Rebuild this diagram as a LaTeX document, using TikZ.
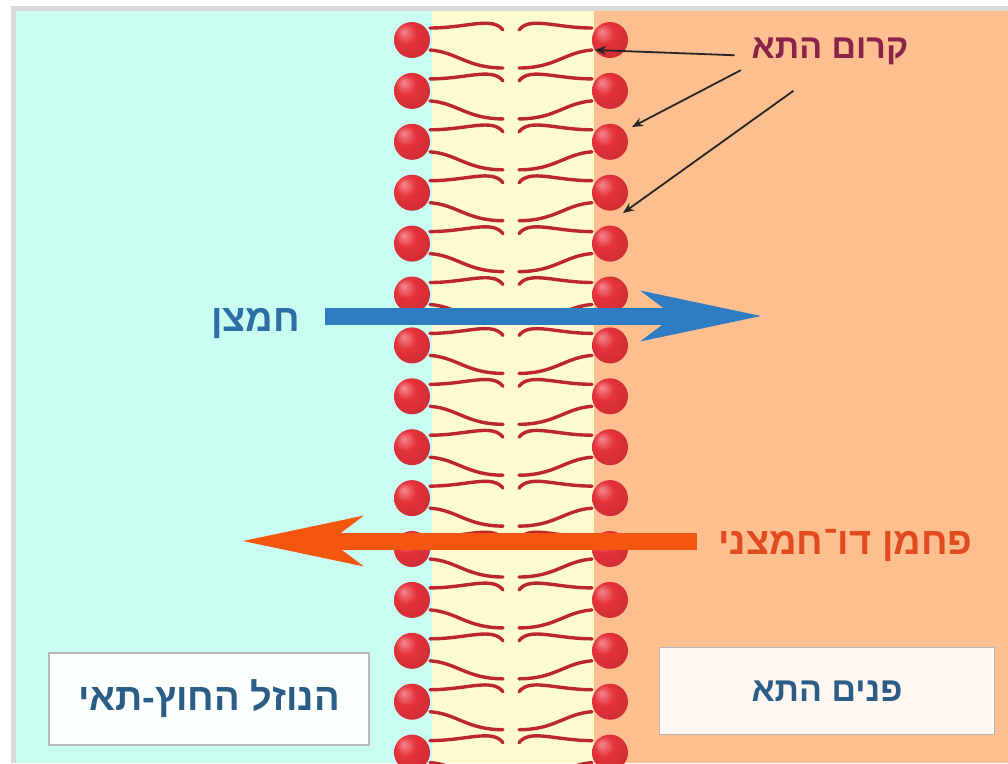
\documentclass[tikz,border=0pt]{standalone}
\usepackage{fontspec}
\setmainfont{Liberation Sans}
\newfontfamily\hebfont[Script=Hebrew]{Liberation Sans}
\TeXXeTstate=1
\usetikzlibrary{positioning}
\usetikzlibrary{arrows.meta}
\usepackage{xcolor}

\definecolor{outsideCyan}{HTML}{C9FDF1}
\definecolor{membraneYellow}{HTML}{FCFBD0}
\definecolor{insideOrange}{HTML}{FDBF8F}
\definecolor{frameGray}{HTML}{D9D9D9}
\definecolor{tailRed}{HTML}{BC272E}
\definecolor{headRed}{HTML}{E5323B}
\definecolor{headLight}{HTML}{F58A8F}
\definecolor{headDark}{HTML}{B0101C}
\definecolor{oxyBlue}{HTML}{2E7DC2}
\definecolor{coTwoOrange}{HTML}{F5560F}
\definecolor{membraneText}{HTML}{8A2348}
\definecolor{oxyText}{HTML}{2D6EA9}
\definecolor{coTwoText}{HTML}{E24B1F}
\definecolor{boxText}{HTML}{2B5D86}

\pgfdeclareradialshading{headBall}{\pgfpoint{-12bp}{12bp}}{color(0bp)=(headLight); color(14bp)=(headRed); color(36bp)=(headRed!88!black); color(50bp)=(headDark)}

\tikzset
  {
    myHead/.style=    {shading=headBall},
    myTail/.style=    {tailRed, line width=3.4pt, line cap=round},
    myLabel/.style=   {inner sep=0pt, font=\hebfont\bfseries\fontsize{34}{40}\selectfont},
    myBox/.style=     {draw=gray!55, line width=1.2pt, inner sep=0pt, text=boxText},
    myCallout/.style= {black!85, line width=1.8pt, -{Stealth[length=11pt, width=9pt]}},
    myThick/.style=   {line width=17pt, -{Stealth[length=121pt, width=51pt, inset=34pt, line width=0pt]}}
  }

\begin{document}
\begin{tikzpicture}[x=1pt, y=-1pt]

\useasboundingbox (0,0) rectangle (1008,763);

% background: frame, outside, membrane, inside
{
\fill[frameGray] (11,6) rectangle (1008,763);
\fill[outsideCyan] (16,11) rectangle (432,763);
\fill[membraneYellow] (432,11) rectangle (594,763);
\fill[insideOrange] (594,11) rectangle (1008,763);
}

% tails
{
\foreach \i in {0,...,14}
{
\pgfmathsetmacro{\cy}{40+50.9*\i}
\draw[myTail] (430,\cy-12) .. controls (467,\cy-12) and (492,\cy-24) .. (503,\cy-10);
\draw[myTail] (430,\cy+10) .. controls (457,\cy+12) and (467,\cy+28) .. (503,\cy+28);
\draw[myTail] (592,\cy-12) .. controls (555,\cy-12) and (530,\cy-24) .. (519,\cy-10);
\draw[myTail] (592,\cy+10) .. controls (565,\cy+12) and (555,\cy+28) .. (519,\cy+28);
}
}

% heads
{
\foreach \i in {0,...,14}
{
\pgfmathsetmacro{\cy}{40+50.9*\i}
\shade[myHead] (412,\cy) circle (18pt);
\shade[myHead] (610,\cy) circle (18pt);
}
}

% boxes
\node[myBox, fill=white!92!outsideCyan, minimum width=320pt, minimum height=92pt, font=\hebfont\bfseries\fontsize{38}{43}\selectfont] (outside) at (209,699) {\beginR הנוזל החוץ-תאי\endR};
\node[myBox, fill=white!88!insideOrange, minimum width=335pt, minimum height=87pt, font=\hebfont\bfseries\fontsize{34}{40}\selectfont] (inside) at (827,691) {\beginR פנים התא\endR};

% labels
\node[myLabel, text=membraneText, anchor=base] (mem) at (830,58) {\beginR קרום התא\endR};
\node[myLabel, text=oxyText, anchor=base east, font=\hebfont\bfseries\fontsize{38}{44}\selectfont] (oxy) at (300,331) {\beginR חמצן\endR};
\node[myLabel, text=coTwoText, anchor=base west, font=\hebfont\bfseries\fontsize{38}{44}\selectfont] (co2) at (718,554) {\beginR פחמן דו־חמצני\endR};

\coordinate (oxyTip) at (761,316);
\coordinate (coTwoTip) at (243,541);

\coordinate (tipA) at (595,50);
\coordinate (tipB) at (632,127);
\coordinate (tipC) at (623,213);

% gas arrows
\draw[myThick, oxyBlue, shorten <=25pt] (oxy.east |- oxyTip) -- (oxyTip);
\draw[myThick, coTwoOrange, shorten <=21pt] (co2.west |- coTwoTip) -- (coTwoTip);

% callouts
\draw[myCallout, shorten <=17pt] ([yshift=-5pt]mem.west) -- (tipA);
\draw[myCallout, shorten <=12pt] (mem.south west) -- (tipB);
\draw[myCallout, shorten <=45pt] (mem.south) -- (tipC);

\end{tikzpicture}
\end{document}
